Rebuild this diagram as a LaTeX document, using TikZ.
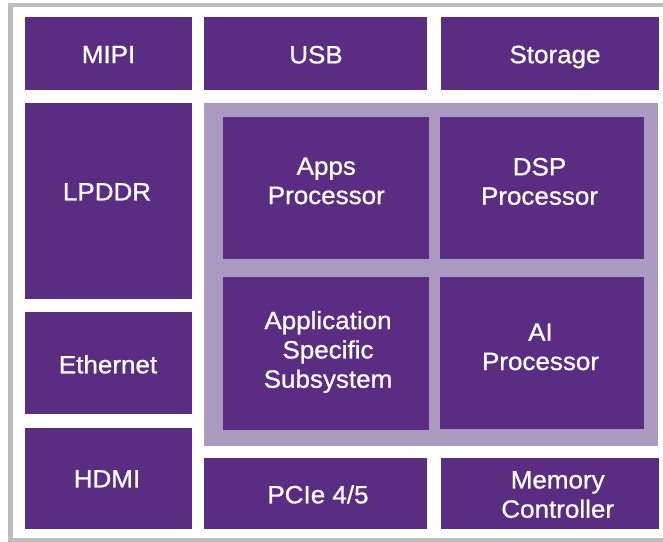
\documentclass[tikz,border=0pt]{standalone}
\usepackage{fontspec}
\setmainfont{Liberation Sans}[FakeBold=0.8, FakeStretch=1.04]
\definecolor{dpurple}{HTML}{5B2D82}
\definecolor{lpurple}{HTML}{AA99C1}
\definecolor{framegray}{HTML}{BEBEBE}
\begin{document}
\begin{tikzpicture}[x=1pt,y=-1pt,
  blk/.style={fill=dpurple, draw=none},
  lbl/.style={text=white, anchor=north, inner sep=0pt, align=center,
    font=\fontsize{25}{29.3}\selectfont}]
\useasboundingbox (0,0) rectangle (663,541);
\clip (0,0) rectangle (663,541);
\fill[white] (0,0) rectangle (663,541);
% outer frame
\draw[framegray, line width=4.5pt] (10.5,5) rectangle (670,540.5);
% light container
\fill[lpurple] (204,102.7) rectangle (658.3,446);
% blocks
\path[blk] (25,17.3) rectangle (192,89.7);
\path[blk] (204,17.3) rectangle (427,89.7);
\path[blk] (441,17.3) rectangle (659,89.7);
\path[blk] (25,102.7) rectangle (192,299);
\path[blk] (25,312) rectangle (192,413.7);
\path[blk] (25,427.7) rectangle (192,529.3);
\path[blk] (222.7,116.7) rectangle (429,259);
\path[blk] (440,116.7) rectangle (644,259);
\path[blk] (222.7,276.7) rectangle (429,430);
\path[blk] (440,276.7) rectangle (644,429.3);
\path[blk] (204,457.7) rectangle (427,529.3);
\path[blk] (441,457.7) rectangle (659,529.3);
% labels
\node[lbl] (tmipi) at (108.5,45.7) {MIPI};
\node[lbl] (tusb) at (316,45.7) {USB};
\node[lbl] (tstor) at (555,45.5) {Storage};
\node[lbl] (tlpddr) at (107,183) {LPDDR};
\node[lbl] (teth) at (108,355) {Ethernet};
\node[lbl] (thdmi) at (107,470) {HDMI};
\node[lbl] (tapps) at (326.3,157.3) {Apps\\Processor};
\node[lbl] (tdsp) at (539.5,157.7) {DSP\\Processor};
\node[lbl] (tass) at (328,310.8) {Application\\Specific\\Subsystem};
\node[lbl] (tai) at (540.5,323.3) {AI\\Processor};
\node[lbl] (tpcie) at (318,485) {PCIe 4/5};
\node[lbl] (tmem) at (557.7,471) {Memory\\Controller};
\end{tikzpicture}
\end{document}
